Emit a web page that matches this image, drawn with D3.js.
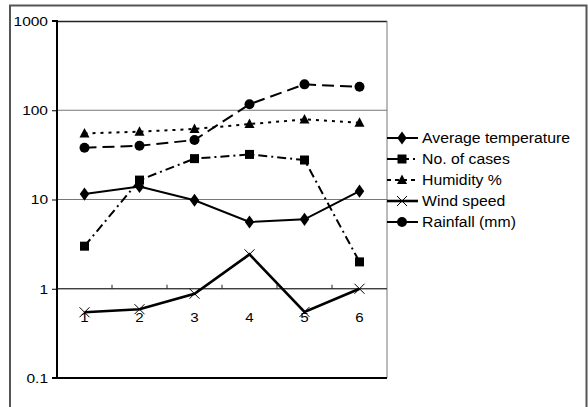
<!DOCTYPE html>
<html><head><meta charset="utf-8">
<script src="https://cdn.jsdelivr.net/npm/d3@7/dist/d3.min.js"></script>
<style>body{margin:0;background:#fff}svg{display:block}text{font-family:"Liberation Sans",Arial,sans-serif;fill:#000}</style>
</head><body><svg id="c" width="588" height="407"></svg>
<script>
const categories = ["1","2","3","4","5","6"];
const avgTemperature = [11.5, 14, 9.8, 5.6, 6.0, 12.4];
const noOfCases = [3, 16.5, 28.7, 32, 27.7, 2];
const humidity = [55, 57.5, 61.7, 70, 79, 72.6];
const windSpeed = [0.545, 0.59, 0.88, 2.43, 0.55, 1.0];
const rainfall = [38, 40, 46.4, 116.7, 195, 183];
const yTicks = [0.1, 1, 10, 100, 1000];
const seriesNames = ["Average temperature","No. of cases","Humidity %","Wind speed","Rainfall (mm)"];

const series = [
  {name: seriesNames[0], values: avgTemperature, marker: "diamond", dash: null, legDash: null, w: 2},
  {name: seriesNames[1], values: noOfCases, marker: "square", dash: "9,4,2,4", legDash: "22,4,2,10", w: 2},
  {name: seriesNames[2], values: humidity, marker: "triangle", dash: "3,5", legDash: "4,4", w: 2},
  {name: seriesNames[3], values: windSpeed, marker: "x", dash: null, legDash: null, w: 2.6},
  {name: seriesNames[4], values: rainfall, marker: "circle", dash: "12,6", legDash: null, w: 2}
];

const svg = d3.select("#c");
const L = 57, R = 387, T = 21, B = 378;
const x = d3.scaleBand().domain(categories).range([L, R]);
const y = d3.scaleLog().domain([0.1, 1000]).range([B, T]);

// outer frame
svg.append("path").attr("d", `M10,407 V5.5 H586.5 V407`).attr("fill","none").attr("stroke","#555").attr("stroke-width",2);

// gridlines
svg.append("g").selectAll("line").data(yTicks.slice(1, -1)).join("line")
  .attr("x1", L).attr("x2", R).attr("y1", d => y(d)).attr("y2", d => y(d))
  .attr("stroke", "#777").attr("stroke-width", 1);
// plot frame
svg.append("line").attr("x1", L).attr("x2", R).attr("y1", T + 0.5).attr("y2", T + 0.5).attr("stroke", "#222").attr("stroke-width", 1.5);
svg.append("line").attr("x1", R).attr("x2", R).attr("y1", T).attr("y2", B).attr("stroke", "#777").attr("stroke-width", 1);

// y axis
const yAxis = d3.axisLeft(y).tickValues(yTicks).tickFormat("").tickSize(5);
const gy = svg.append("g").attr("transform", `translate(${L},0)`).call(yAxis);
gy.select(".domain").attr("stroke", "#000").attr("stroke-width", 2).attr("d", `M-5,${T}H0V${B}H-5`);
gy.selectAll(".tick line").attr("stroke", "#000");
svg.append("g").selectAll("text").data(yTicks).join("text")
  .attr("transform", d => `translate(48,${y(d)}) scale(1.14,1)`)
  .attr("text-anchor", "end").attr("dy", "0.36em").attr("font-size", 13.6)
  .text(d => String(d));
// bottom line
svg.append("line").attr("x1", L).attr("x2", R).attr("y1", B).attr("y2", B).attr("stroke", "#000").attr("stroke-width", 2);

// category axis at value 1
const xAxis = d3.axisBottom(x).tickSize(0).tickFormat("");
const gx = svg.append("g").attr("transform", `translate(0,${y(1)})`).call(xAxis);
gx.select(".domain").attr("stroke", "#222").attr("stroke-width", 1.2).attr("d", `M${L},0H${R}`);
gx.append("g").selectAll("line").data(categories.slice(1)).join("line")
  .attr("x1", d => x(d)).attr("x2", d => x(d)).attr("y1", 0).attr("y2", -4)
  .attr("stroke", "#222");

const cx = d => x(d) + x.bandwidth() / 2;
svg.append("g").selectAll("text").data(categories).join("text")
  .attr("transform", d => `translate(${cx(d)},${y(1) + 33}) scale(1.12,1)`)
  .attr("text-anchor", "middle").attr("font-size", 13.5).text(d => d);

function drawMarker(g, type, px, py) {
  if (type === "diamond") g.append("path").attr("d", d3.symbol(d3.symbolDiamond, 50)()).attr("transform", `translate(${px},${py}) scale(1.25,1)`).attr("fill", "#000");
  else if (type === "square") g.append("rect").attr("x", px - 4.5).attr("y", py - 4.5).attr("width", 9).attr("height", 9).attr("fill", "#000");
  else if (type === "triangle") g.append("path").attr("d", `M${px},${py - 5.5}L${px + 5},${py + 4}L${px - 5},${py + 4}Z`).attr("fill", "#000");
  else if (type === "circle") g.append("circle").attr("cx", px).attr("cy", py).attr("r", 5).attr("fill", "#000");
  else if (type === "x") g.append("path").attr("d", `M${px - 5},${py - 5}L${px + 5},${py + 5}M${px - 5},${py + 5}L${px + 5},${py - 5}`).attr("stroke", "#000").attr("stroke-width", 1);
}

const line = d3.line().x((d, i) => cx(categories[i])).y(d => y(d));
series.forEach(s => {
  const g = svg.append("g");
  g.append("path").attr("d", line(s.values)).attr("fill", "none").attr("stroke", "#000")
    .attr("stroke-width", s.w).attr("stroke-dasharray", s.dash);
  s.values.forEach((v, i) => drawMarker(g, s.marker, cx(categories[i]), y(v)));
});

// legend
const legY = [138, 159, 180, 201, 222];
const lg = svg.append("g");
series.forEach((s, i) => {
  const yy = legY[i];
  lg.append("line").attr("x1", 387).attr("x2", 418).attr("y1", yy).attr("y2", yy)
    .attr("stroke", "#000").attr("stroke-width", s.w).attr("stroke-dasharray", s.legDash);
  drawMarker(lg, s.marker, 402, yy);
  lg.append("text").attr("transform", `translate(422,${yy}) scale(1.09,1)`).attr("dy", "0.36em").attr("font-size", 14.5).text(s.name);
});
</script></body></html>
